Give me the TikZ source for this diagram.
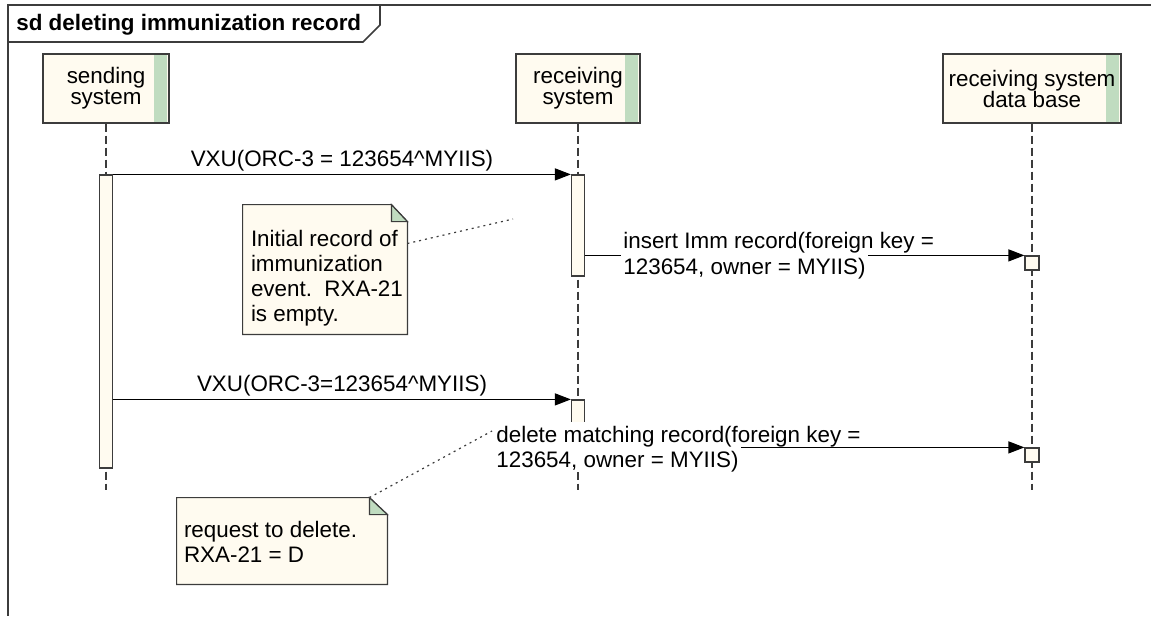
\documentclass[tikz,border=0pt]{standalone}
\usepackage{fontspec}
\setmainfont{Liberation Sans}
\usetikzlibrary{arrows.meta,positioning}

\definecolor{eacream}{RGB}{255,251,240}
\definecolor{eagreen}{RGB}{192,220,192}
\definecolor{ealine}{RGB}{60,60,60}

\begin{document}
\begin{tikzpicture}[x=0.5pt,y=-0.5pt,
  font=\fontsize{11.2}{12.5}\selectfont,
  frame/.style={draw=ealine,line width=0.8pt},
  head/.style={rectangle,draw=ealine,fill=eacream,line width=0.6pt,minimum height=34.5pt,inner sep=0pt,align=center,
    font=\fontsize{11.2}{10.5}\selectfont,
    path picture={\fill[eagreen] ([shift={(-15,1)}]path picture bounding box.north east) rectangle ([shift={(-2,-1)}]path picture bounding box.south east);}},
  life/.style={draw=ealine,line width=0.6pt,dash pattern=on 4pt off 2pt},
  act/.style={rectangle,draw=ealine,fill=eacream,line width=0.6pt,minimum width=6.5pt,inner sep=0pt},
  dbact/.style={rectangle,draw=ealine,fill=eacream,line width=0.6pt,minimum width=7pt,minimum height=7pt,inner sep=0pt},
  msg/.style={draw=black,line width=0.6pt,-{Triangle[length=8pt,width=6pt]}},
  msglab/.style={above,inner sep=1.2pt},
  reclab/.style={rectangle,anchor=base west,fill=white,inner xsep=1pt,inner ysep=0pt,text height=10pt,text depth=2.4pt},
  noteout/.style={draw=ealine,fill=eacream,line width=0.6pt},
  fold/.style={draw=ealine,fill=eagreen,line width=0.6pt},
  notetxt/.style={anchor=base west,align=left,inner sep=0pt},
  link/.style={draw=ealine,line width=0.6pt,dash pattern=on 1pt off 2pt}]

  \path[use as bounding box,fill=white] (0,0) rectangle (1151,616);

  % frame
  \draw[frame] (1151,5) -- (8,5) -- (8,616);
  \draw[frame] (8,42) -- (363,42) -- (380,25) -- (380,5);
  \node[anchor=base west,inner sep=0pt,font=\fontsize{11.2}{12.5}\selectfont\bfseries] (title) at (16,30) {sd deleting immunization record};

  % lifelines
  \node[head,minimum width=63pt] (snd) at (106,88.5) {sending\\system};
  \node[head,minimum width=62pt] (rcv) at (578,88.5) {receiving\\system};
  \node[head,minimum width=89pt] (dbs) at (1032,88.5) {receiving system\\data base};

  \coordinate (sndend) at (106,490);
  \coordinate (rcvend) at (578,490);
  \coordinate (dbsend) at (1032,490);
  \draw[life] (snd.south) -- (sndend);
  \draw[life] (rcv.south) -- (rcvend);
  \draw[life] (dbs.south) -- (dbsend);

  \node[act,minimum height=146.5pt] (sa) at (106,321.5) {};
  \node[act,minimum height=50.5pt] (ra1) at (578,225.5) {};
  \node[act,minimum height=23pt] (ra2) at (578,423) {};
  \node[dbact] (dba1) at (1032,263) {};
  \node[dbact] (dba2) at (1032,455) {};

  % messages
  \draw[msg] (sa.east |- ra1.north) -- node[msglab] (m1) {VXU(ORC-3 = 123654\textasciicircum MYIIS)} (ra1.north west);
  \draw[msg] (ra1.east |- dba1.north) -- (dba1.north west);
  \node[reclab,text height=11.8pt] (ins2) at (621,274) {123654, owner = MYIIS)};
  \node[reclab] (ins1) at (621,248) {insert Imm record(foreign key =};

  \draw[msg] (sa.east |- ra2.north) -- node[msglab] (m3) {VXU(ORC-3=123654\textasciicircum MYIIS)} (ra2.north west);
  \draw[msg] (ra2.east |- dba2.north) -- (dba2.north west);
  \node[reclab,text height=11.5pt] (del2) at (494,467) {123654, owner = MYIIS)};
  \node[reclab] (del1) at (494,442) {delete matching record(foreign key =};

  % notes
  \node[minimum width=82pt,minimum height=64.5pt,inner sep=0pt] (n1) at (325,269.5) {};
  \filldraw[noteout] (n1.north west) -- ([shift={(-16,0)}]n1.north east) -- ([shift={(0,17)}]n1.north east) -- (n1.south east) -- (n1.south west) -- cycle;
  \filldraw[fold] ([shift={(-16,0)}]n1.north east) -- ([shift={(-16,17)}]n1.north east) -- ([shift={(0,17)}]n1.north east) -- cycle;
  \node[notetxt] (n1t) at ([shift={(8,117)}]n1.north west) {Initial record of\\immunization\\event.~~RXA-21\\is empty.};
  \coordinate (c1) at (513,219);
  \draw[link] ([shift={(0,-26)}]n1.east) -- (c1);

  \node[minimum width=105pt,minimum height=43pt,inner sep=0pt] (n2) at (282,541) {};
  \filldraw[noteout] (n2.north west) -- ([shift={(-18,0)}]n2.north east) -- ([shift={(0,17)}]n2.north east) -- (n2.south east) -- (n2.south west) -- cycle;
  \filldraw[fold] ([shift={(-18,0)}]n2.north east) -- ([shift={(-18,17)}]n2.north east) -- ([shift={(0,17)}]n2.north east) -- cycle;
  \node[notetxt] (n2t) at ([shift={(7,65)}]n2.north west) {request to delete.\\RXA-21 = D};
  \coordinate (c2) at (492,431);
  \draw[link] ([shift={(-18,0)}]n2.north east) -- (c2);
\end{tikzpicture}
\end{document}
